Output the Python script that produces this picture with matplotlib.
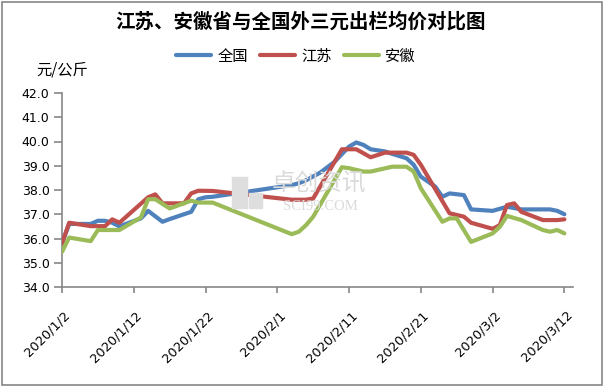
import pandas as pd
import matplotlib
matplotlib.use("Agg")
import matplotlib.pyplot as plt
from matplotlib.patches import Rectangle
from matplotlib.transforms import ScaledTranslation

CJK = ["Noto Sans CJK SC", "DejaVu Sans"]
plt.rcParams["font.family"] = ["DejaVu Sans"]

title = "江苏、安徽省与全国外三元出栏均价对比图"
unit_label = "元/公斤"
series_names = ["全国", "江苏", "安徽"]
series_colors = ["#4F81BD", "#C0504D", "#9BBB59"]

# prices, yuan/kg (2020)
national_dates = ["1/2", "1/3", "1/6", "1/7", "1/8", "1/9", "1/10", "1/13", "1/14",
                  "1/16", "1/17", "1/20", "1/21", "1/22", "1/23", "2/3", "2/4", "2/5",
                  "2/7", "2/9", "2/11", "2/12", "2/13", "2/14", "2/16", "2/17", "2/19",
                  "2/20", "2/21", "2/23", "2/24", "2/25", "2/27", "2/28", "3/2", "3/4",
                  "3/6", "3/10", "3/11", "3/12"]
national_prices = [35.8, 36.6, 36.6, 36.73, 36.73, 36.65, 36.5, 36.83, 37.14,
                   36.69, 36.8, 37.1, 37.62, 37.7, 37.72, 38.2, 38.28, 38.4,
                   38.72, 39.17, 39.79, 39.96, 39.86, 39.68, 39.59, 39.49, 39.31,
                   39.04, 38.55, 38.14, 37.72, 37.86, 37.79, 37.2, 37.14, 37.31,
                   37.2, 37.2, 37.14, 37.0]

jiangsu_dates = ["1/2", "1/3", "1/6", "1/8", "1/9", "1/10", "1/14", "1/15", "1/16",
                 "1/19", "1/20", "1/21", "1/23", "2/3", "2/5", "2/6", "2/10", "2/12",
                 "2/14", "2/16", "2/19", "2/20", "2/21", "2/25", "2/26", "2/27", "2/28",
                 "3/2", "3/3", "3/4", "3/5", "3/6", "3/9", "3/11", "3/12"]
jiangsu_prices = [35.8, 36.65, 36.51, 36.51, 36.79, 36.65, 37.7, 37.82, 37.45,
                  37.45, 37.86, 37.97, 37.96, 37.6, 37.6, 37.65, 39.68, 39.68,
                  39.35, 39.54, 39.54, 39.45, 39.04, 37.04, 36.97, 36.9, 36.65,
                  36.4, 36.55, 37.38, 37.45, 37.1, 36.76, 36.76, 36.79]

anhui_dates = ["1/2", "1/3", "1/6", "1/7", "1/10", "1/13", "1/14", "1/15", "1/17",
               "1/20", "1/21", "1/23", "2/3", "2/4", "2/5", "2/6", "2/10", "2/11",
               "2/13", "2/14", "2/17", "2/19", "2/20", "2/21", "2/24", "2/25", "2/26",
               "2/28", "3/2", "3/3", "3/4", "3/6", "3/9", "3/10", "3/11", "3/12"]
anhui_prices = [35.45, 36.04, 35.89, 36.35, 36.35, 36.87, 37.62, 37.62, 37.24,
                37.56, 37.48, 37.48, 36.18, 36.28, 36.55, 36.9, 38.94, 38.9,
                38.76, 38.76, 38.96, 38.96, 38.76, 38.07, 36.69, 36.83, 36.83,
                35.86, 36.21, 36.48, 36.93, 36.76, 36.35, 36.28, 36.35, 36.21]

tick_dates = ["1/2", "1/12", "1/22", "2/1", "2/11", "2/21", "3/2", "3/12"]
y_ticks = [34, 35, 36, 37, 38, 39, 40, 41, 42]


def to_dates(days):
    return pd.to_datetime(["2020/" + d for d in days], format="%Y/%m/%d")


W, H = 604, 386
fig = plt.figure(figsize=(W / 100, H / 100), dpi=100)
ax = fig.add_axes([62 / W, 1 - 287 / H, (573 - 62) / W, (287 - 93) / H])

all_series = [
    (national_dates, national_prices),
    (jiangsu_dates, jiangsu_prices),
    (anhui_dates, anhui_prices),
]
for (days, prices), name, color in zip(all_series, series_names, series_colors):
    ax.plot(to_dates(days), prices, color=color, lw=3, label=name,
            solid_joinstyle="round", solid_capstyle="round", zorder=3)

for side in ["top", "right"]:
    ax.spines[side].set_visible(False)
for side in ["left", "bottom"]:
    ax.spines[side].set_color("#868686")
    ax.spines[side].set_linewidth(1.2)
ax.tick_params(axis="y", direction="out", length=6, width=1.2, color="#868686", pad=3)
ax.tick_params(axis="x", direction="out", length=4.5, width=1.2, color="#868686", pad=2)

ax.set_ylim(34, 42)
ax.set_yticks(y_ticks)
ax.set_yticklabels(["{:.1f}".format(v) for v in y_ticks], fontsize=9)

ticks = to_dates(tick_dates)
ax.set_xlim(ticks[0], ticks[-1] + pd.Timedelta(days=1.2))
ax.set_xticks(ticks)
ax.set_xticklabels(["{}/{}/{}".format(t.year, t.month, t.day) for t in ticks],
                   rotation=45, ha="right", va="center", rotation_mode="anchor",
                   fontsize=9.3)
# rotated labels sit a bit right of and below their ticks in the original
shift = ScaledTranslation(6 / 100, -17 / 100, fig.dpi_scale_trans)
for lbl in ax.get_xticklabels():
    lbl.set_transform(lbl.get_transform() + shift)

# watermark
fig.patches.append(Rectangle((232 / W, 1 - 208 / H), 15 / W, 31 / H,
                             transform=fig.transFigure, color="#dedede", zorder=0))
fig.patches.append(Rectangle((249 / W, 1 - 208 / H), 13 / W, 15 / H,
                             transform=fig.transFigure, color="#dedede", zorder=0))
fig.text(319 / W, 1 - 184 / H, "卓创资讯", family=CJK, fontsize=17, color="#dadada",
         ha="center", va="center", zorder=0)
fig.text(320 / W, 1 - 206 / H, "SCI99.COM", family="Liberation Serif", fontsize=10.5,
         color="#dadada", ha="center", va="center", zorder=0)

fig.text(301 / W, 1 - 22 / H, title, family=CJK, fontsize=14, fontweight="bold",
         ha="center", va="center")
fig.text(36 / W, 1 - 70 / H, unit_label, family=CJK, fontsize=11, ha="left", va="center")

fig.legend(loc="center", bbox_to_anchor=(296 / W, 1 - 56 / H), ncol=3, frameon=False,
           prop={"family": CJK, "size": 11}, handlelength=2.3, handletextpad=0.4,
           columnspacing=0.8)

fig.patches.append(Rectangle((1.5 / W, 1.5 / H), (W - 3.5) / W, (H - 3) / H,
                             transform=fig.transFigure, fill=False,
                             edgecolor="#868686", lw=1.2))

fig.savefig("out.png", dpi=100)
